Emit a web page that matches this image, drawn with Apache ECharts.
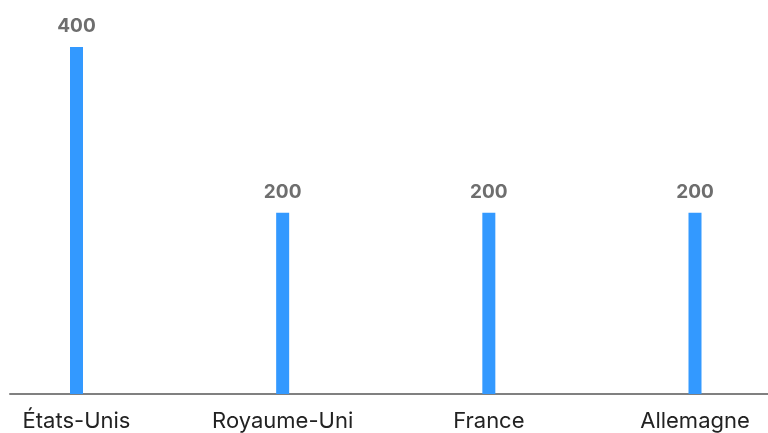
<!DOCTYPE html>
<html>
<head>
<meta charset="utf-8">
<script src="https://cdn.jsdelivr.net/npm/echarts@6/dist/echarts.min.js"></script>
<style>
  html, body { margin: 0; padding: 0; background: #fff; }
  #chart { width: 768px; height: 433px; }
</style>
</head>
<body>
<div id="chart"></div>
<script>
// Countries and their values
const countries = ['États-Unis', 'Royaume-Uni', 'France', 'Allemagne'];
const values = [400, 200, 200, 200];

const FONT = 'Inter, "Open Sans", sans-serif';

const chart = echarts.init(document.getElementById('chart'), null, { renderer: 'canvas' });

chart.setOption({
  animation: false,
  backgroundColor: '#ffffff',
  grid: [
    // plotting area for the bars
    { left: 76.5, right: 73, top: 47, bottom: 39, containLabel: false },
    // full-width area that carries the baseline
    { left: 10, right: 0, top: 47, bottom: 39, containLabel: false }
  ],
  xAxis: [
    {
      type: 'category',
      gridIndex: 0,
      data: countries,
      boundaryGap: false,
      axisLine: { show: false },
      axisTick: { show: false },
      axisLabel: {
        color: '#222222',
        fontFamily: FONT,
        fontSize: 22,
        margin: 16,
        interval: 0
      }
    },
    {
      type: 'category',
      gridIndex: 1,
      data: [''],
      axisLine: { show: true, lineStyle: { color: '#808080', width: 2 } },
      axisTick: { show: false },
      axisLabel: { show: false }
    }
  ],
  yAxis: [
    {
      type: 'value',
      gridIndex: 0,
      min: -19,
      max: 400,
      startValue: -19,
      show: false,
      splitLine: { show: false }
    },
    {
      type: 'value',
      gridIndex: 1,
      show: false,
      splitLine: { show: false }
    }
  ],
  series: [
    {
      type: 'bar',
      xAxisIndex: 0,
      yAxisIndex: 0,
      data: values,
      barWidth: 13,
      itemStyle: { color: '#3399ff' },
      label: {
        show: true,
        position: 'top',
        distance: 11,
        color: '#6e6e6e',
        fontFamily: FONT,
        fontWeight: 'bold',
        fontSize: 19
      }
    }
  ]
});
</script>
</body>
</html>
